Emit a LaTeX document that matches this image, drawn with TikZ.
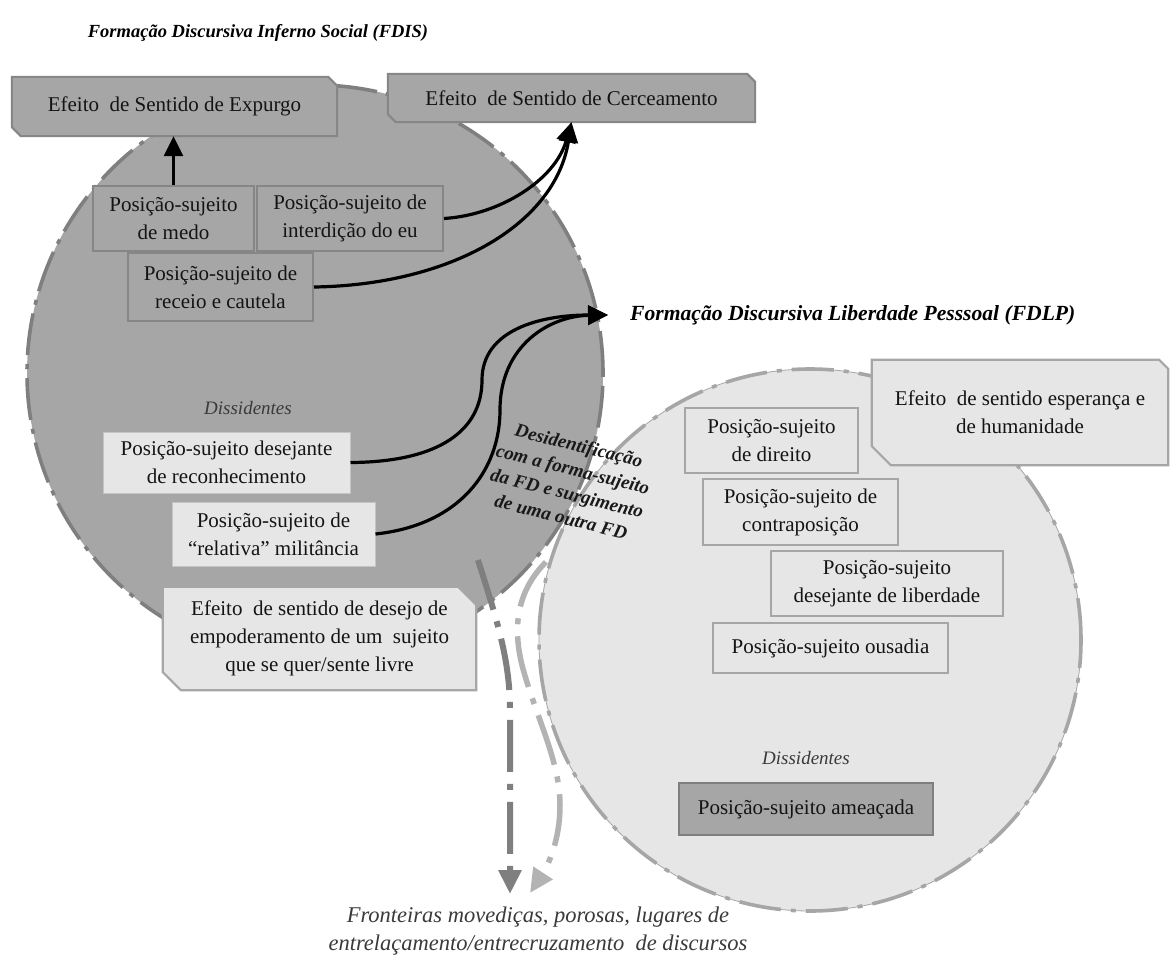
\documentclass[tikz,border=0pt]{standalone}
\usepackage{fontspec}
\setmainfont{Liberation Serif}
\usetikzlibrary{arrows.meta}
\pgfdeclarelayer{circ}
\pgfdeclarelayer{boxbg}
\pgfsetlayers{circ,boxbg,main}
\definecolor{dfill}{HTML}{A6A6A6}
\definecolor{dline}{HTML}{868686}
\definecolor{dcirc}{HTML}{7F7F7F}
\definecolor{lfill}{HTML}{E6E6E6}
\definecolor{lline}{HTML}{A6A6A6}
\definecolor{dissline}{HTML}{C4C4C4}
\definecolor{arrdark}{HTML}{7F7F7F}
\definecolor{arrlight}{HTML}{B3B3B3}
\definecolor{txtgray}{HTML}{3A3A3A}
\newcommand\snipbox[4]{%
  \path[#4] (#1.north west) -- ([xshift=-#2]#1.north east) -- ([yshift=-#2]#1.north east)
    -- (#1.south east) -- ([xshift=#3]#1.south west) -- ([yshift=#3]#1.south west) -- cycle;}
\tikzset{
  bt/.style={font=\fontsize{21}{28}\selectfont, align=center, inner sep=0pt, text=black!92},
  dbox/.style={bt, draw=dline, fill=dfill, line width=2pt},
  lbox/.style={bt, draw=lline, fill=lfill, line width=2.2pt},
  dissbox/.style={bt, draw=dissline, fill=lfill, line width=1pt},
  ameabox/.style={bt, draw=dcirc, fill=dfill, line width=2.4pt},
  snipdark/.style={draw=dline, fill=dfill, line width=2pt},
  sniplight/.style={draw=lline, fill=lfill, line width=2.2pt},
  conn/.style={line width=3.2pt, black, -{Triangle[length=20pt,width=19pt]}},
  hdone/.style={font=\fontsize{18.5}{22}\selectfont\bfseries\itshape, inner sep=0pt},
  hdtwo/.style={font=\fontsize{21.6}{26}\selectfont\bfseries\itshape, inner sep=0pt},
  diss/.style={font=\fontsize{19}{22}\selectfont\itshape, inner sep=0pt, text=txtgray},
  capt/.style={font=\fontsize{22.5}{28}\selectfont\itshape, align=center, inner sep=0pt, text=txtgray},
  dcircdash/.style={draw=dcirc, line width=3.6pt, dash pattern=on 42pt off 9pt on 5pt off 9pt},
  lcircdash/.style={draw=lline, line width=3.6pt, dash pattern=on 42pt off 10pt on 5pt off 10pt},
  darrow/.style={draw=arrdark, line width=6pt, dash pattern=on 52pt off 12pt on 6pt off 12pt,
    -{Triangle[length=24pt,width=22pt]}},
  larrow/.style={draw=arrlight, line width=5.5pt, dash pattern=on 52pt off 12pt on 6pt off 12pt,
    -{Triangle[length=24pt,width=22pt]}}
}
\begin{document}
\begin{tikzpicture}[x=1pt,y=-1pt]
\useasboundingbox (0,0) rectangle (1171,956);

% circles
\begin{pgfonlayer}{circ}
  \fill[white] (0,0) rectangle (1171,956);
  \node[circle, fill=dfill, minimum size=576pt, inner sep=0pt] (cd) at (315,373) {};
  \path[dcircdash] (cd.center) circle[radius=288pt];
  \node[circle, fill=lfill, minimum size=542pt, inner sep=0pt] (cl) at (810,640) {};
  \draw[draw=lline, line width=0.8pt] (cl.center) circle[radius=271pt];
  \path[lcircdash] (cl.center) circle[radius=271pt];
\end{pgfonlayer}

% titles
\node[hdone] (fdis) at (258,33) {Formação Discursiva Inferno Social (FDIS)};
\node[hdtwo, anchor=west] (fdlp) at (630,315) {Formação Discursiva Liberdade Pesssoal (FDLP)};

% chamfered boxes (text nodes)
\node[bt, minimum width=325pt, minimum height=59pt] (exp) at (174.5,106.5) {Efeito\ \ de Sentido de Expurgo};
\node[bt, minimum width=367pt, minimum height=48pt] (cerc) at (571.5,98) {Efeito\ \ de Sentido de Cerceamento};
\node[bt, minimum width=313pt, minimum height=103pt] (desejo) at (319.5,638.5)
  {Efeito\ \ de sentido de desejo de\\empoderamento de um\ \ sujeito\\que se quer/sente livre};
\node[bt, minimum width=296pt, minimum height=105pt] (esper) at (1020,412.5)
  {Efeito\ \ de sentido esperança e\\de humanidade};
\begin{pgfonlayer}{boxbg}
  \snipbox{exp}{9pt}{9pt}{snipdark}
  \snipbox{cerc}{8pt}{8pt}{snipdark}
  \snipbox{desejo}{18pt}{18pt}{sniplight}
  \snipbox{esper}{9pt}{19pt}{sniplight}
\end{pgfonlayer}

% boxes in the dark circle
\node[dbox, minimum width=161pt, minimum height=65pt] (medo) at (173.5,218.5) {Posição-sujeito\\de medo};
\node[dbox, minimum width=186pt, minimum height=65pt] (interd) at (350,218.5) {Posição-sujeito de\\interdição do eu};
\node[dbox, minimum width=185pt, minimum height=68pt] (receio) at (220.5,287) {Posição-sujeito de\\receio e cautela};
\node[diss] (dis1) at (248,408) {Dissidentes};
\node[dissbox, minimum width=247pt, minimum height=61pt] (reconh) at (226.5,462.5) {Posição-sujeito desejante\\de reconhecimento};
\node[dissbox, minimum width=203pt, minimum height=64pt] (milit) at (273.5,534) {Posição-sujeito de\\“relativa” militância};

% boxes in the light circle
\node[lbox, minimum width=173pt, minimum height=65pt] (direito) at (771.5,440.5) {Posição-sujeito\\de direito};
\node[lbox, minimum width=195pt, minimum height=66pt] (contra) at (800.5,512) {Posição-sujeito de\\contraposição};
\node[lbox, minimum width=232pt, minimum height=65pt] (liberd) at (887,583.5) {Posição-sujeito\\desejante de liberdade};
\node[lbox, minimum width=235pt, minimum height=50pt] (ousadia) at (830.5,648) {Posição-sujeito ousadia};
\node[diss] (dis2) at (806,758) {Dissidentes};
\node[ameabox, minimum width=254pt, minimum height=52pt] (amea) at (806,809) {Posição-sujeito ameaçada};

% rotated label
\node[rotate=-14, font=\fontsize{19}{24.5}\selectfont\bfseries\itshape, align=center, inner sep=0pt, text=black!90]
  (desid) at (570,481) {Desidentificação\\com a forma-sujeito\\da FD e surgimento\\de uma outra FD};

% connectors
\coordinate (fdlptip) at ([xshift=-22pt]fdlp.west);
\draw[conn] (medo.north) -- (medo.north |- exp.south);
\draw[conn] (interd.east) .. controls (500,215) and (555,180) .. (cerc.south);
\draw[conn] (receio.east) .. controls (450,285) and (555,225) .. (cerc.south);
\draw[conn] (reconh.east) .. controls (440,462) and (482,430) .. (482,380)
  .. controls (482,330) and (540,315) .. (fdlptip);
\draw[conn] (milit.east) .. controls (460,525) and (500,470) .. (500,410)
  .. controls (500,345) and (550,316) .. (fdlptip);

% caption and boundary arrows
\node[capt] (capt) at (538,931) {Fronteiras movediças, porosas, lugares de\\entrelaçamento/entrecruzamento\ \ de discursos};
\coordinate (das) at (478,560);
\coordinate (dae) at (510,894);
\coordinate (las) at (546,562);
\coordinate (lae) at (530,893);
\draw[darrow] (das) .. controls (497,620) and (510,660) .. (510,710) -- (dae);
\draw[larrow] (las) .. controls (518,590) and (512,625) .. (522,665)
  .. controls (535,715) and (560,760) .. (560,805) .. controls (560,845) and (545,870) .. (lae);
\end{tikzpicture}
\end{document}
